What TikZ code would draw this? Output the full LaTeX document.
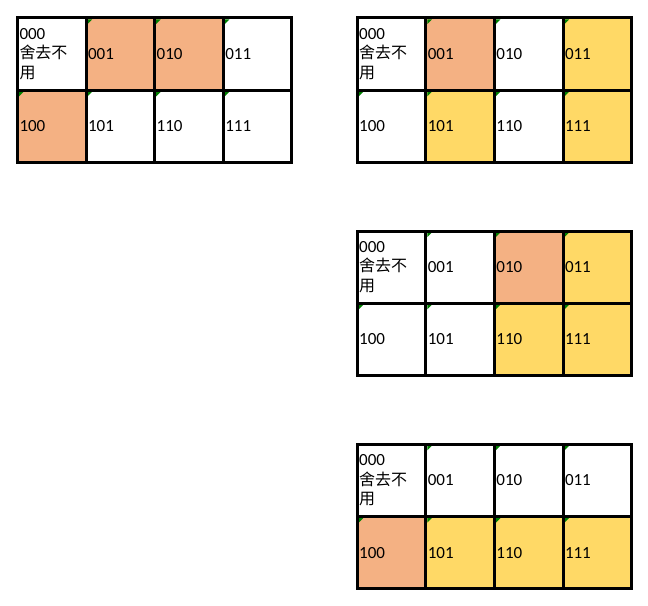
\documentclass[tikz,border=0pt]{standalone}
\usepackage{fontspec}
\setmainfont{Carlito}
\newfontfamily\cjk[Scale=0.94]{Noto Sans CJK SC}
\usepackage{tikz}
\definecolor{salmon}{HTML}{F4B183}
\definecolor{gold}{HTML}{FFD966}
\definecolor{flaggreen}{HTML}{008000}

\begin{document}
\begin{tikzpicture}[x=1bp,y=1bp]
\tikzstyle{every node}+=[inner sep=0pt, outer sep=0pt]
\tikzstyle{cell}=[draw=black, fill=white, line width=3bp, minimum width=68.6bp, minimum height=72.3bp, text width=64.6bp, inner xsep=2bp, align=left, anchor=north west, font=\fontsize{17bp}{19.5bp}\selectfont]
\tikzstyle{flag}=[path picture={\fill [flaggreen] ([shift={(1.5,-1.5)}]path picture bounding box.north west) -- ++(4.5,0) -- ++(-4.5,-4.5) -- cycle;}]
\useasboundingbox (0,0) rectangle (648,-606);
% grid a
\node [cell] (a000) at (17.5,-18) {000\\{\cjk 舍去不}\\{\cjk 用}};
\node [cell, flag, fill=salmon] (a001) at (86.1,-18) {001};
\node [cell, flag, fill=salmon] (a010) at (154.7,-18) {010};
\node [cell, flag] (a011) at (223.3,-18) {011};
\node [cell, flag, fill=salmon] (a100) at (17.5,-90.3) {100};
\node [cell, flag] (a101) at (86.1,-90.3) {101};
\node [cell, flag] (a110) at (154.7,-90.3) {110};
\node [cell, flag] (a111) at (223.3,-90.3) {111};
% grid b
\node [cell] (b000) at (357.2,-18) {000\\{\cjk 舍去不}\\{\cjk 用}};
\node [cell, flag, fill=salmon] (b001) at (425.8,-18) {001};
\node [cell, flag] (b010) at (494.4,-18) {010};
\node [cell, flag, fill=gold] (b011) at (563,-18) {011};
\node [cell, flag] (b100) at (357.2,-90.3) {100};
\node [cell, flag, fill=gold] (b101) at (425.8,-90.3) {101};
\node [cell, flag] (b110) at (494.4,-90.3) {110};
\node [cell, flag, fill=gold] (b111) at (563,-90.3) {111};
% grid c
\node [cell] (c000) at (357.2,-231) {000\\{\cjk 舍去不}\\{\cjk 用}};
\node [cell, flag] (c001) at (425.8,-231) {001};
\node [cell, flag, fill=salmon] (c010) at (494.4,-231) {010};
\node [cell, flag, fill=gold] (c011) at (563,-231) {011};
\node [cell, flag] (c100) at (357.2,-303.3) {100};
\node [cell, flag] (c101) at (425.8,-303.3) {101};
\node [cell, flag, fill=gold] (c110) at (494.4,-303.3) {110};
\node [cell, flag, fill=gold] (c111) at (563,-303.3) {111};
% grid d
\node [cell] (d000) at (357.2,-444.3) {000\\{\cjk 舍去不}\\{\cjk 用}};
\node [cell, flag] (d001) at (425.8,-444.3) {001};
\node [cell, flag] (d010) at (494.4,-444.3) {010};
\node [cell, flag] (d011) at (563,-444.3) {011};
\node [cell, flag, fill=salmon] (d100) at (357.2,-516.6) {100};
\node [cell, flag, fill=gold] (d101) at (425.8,-516.6) {101};
\node [cell, flag, fill=gold] (d110) at (494.4,-516.6) {110};
\node [cell, flag, fill=gold] (d111) at (563,-516.6) {111};
\end{tikzpicture}
\end{document}
